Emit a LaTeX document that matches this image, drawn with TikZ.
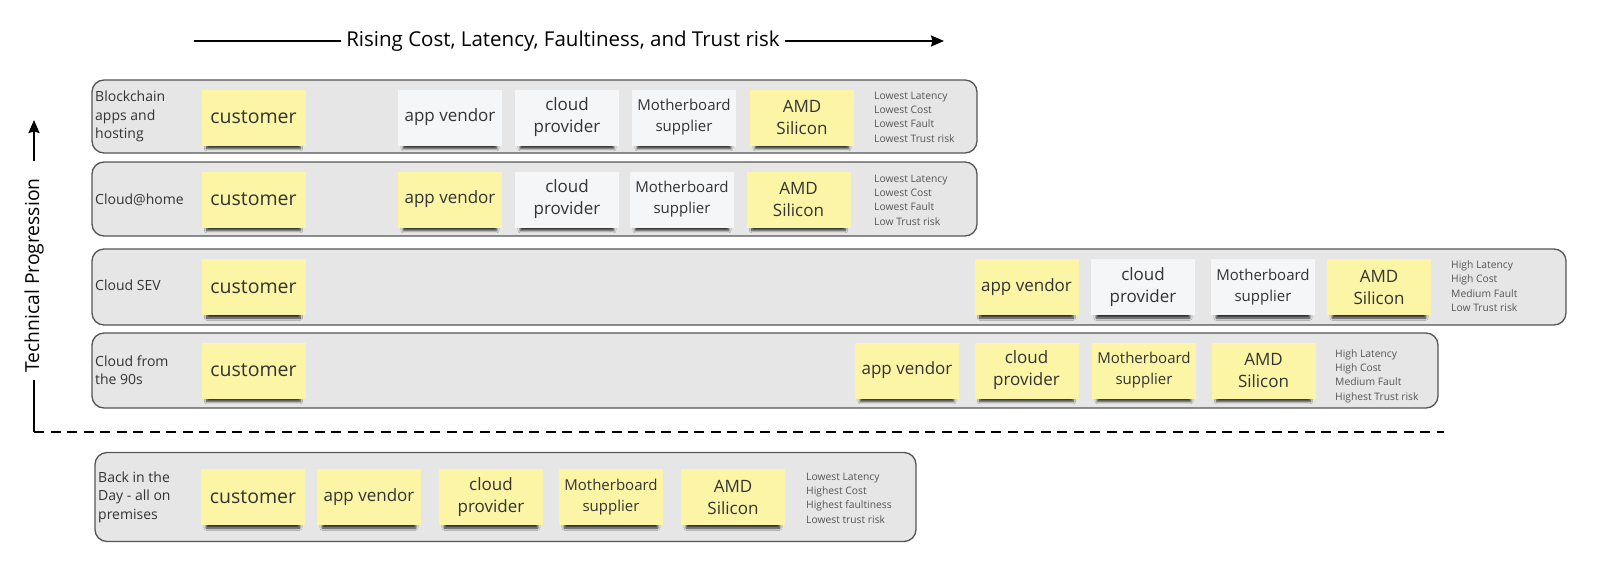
\documentclass[tikz,border=0pt]{standalone}
\usepackage{fontspec}
\setmainfont{Open Sans}
\usetikzlibrary{shapes.geometric, arrows, arrows.meta, positioning, shadows, shadows.blur}
\definecolor{lanefill}{HTML}{E6E6E6}
\definecolor{laneline}{HTML}{555555}
\definecolor{stickyyellow}{HTML}{FDF5A6}
\definecolor{stickywhite}{HTML}{F5F6F8}
\definecolor{inkgray}{HTML}{333333}
\definecolor{factgray}{HTML}{555555}
\tikzstyle{lane} = [rectangle, rounded corners=12pt, draw=laneline, fill=lanefill, line width=1.3pt, inner sep=0pt]
\tikzstyle{sticky} = [rectangle, minimum width=104pt, minimum height=56pt, inner sep=0pt, text centered, align=center, fill=stickyyellow, text=inkgray, font=\fontsize{17}{22}\selectfont, blur shadow={shadow xshift=0pt, shadow yshift=-6.5pt, shadow scale=0.9, shadow blur radius=2.5pt, shadow blur steps=6, shadow opacity=80}]
\tikzstyle{blank} = [sticky, fill=stickywhite]
\tikzstyle{cust} = [font=\fontsize{19.5}{22}\selectfont]
\tikzstyle{board} = [font=\fontsize{15}{21}\selectfont]
\tikzstyle{lanetag} = [anchor=west, align=left, text=inkgray, inner sep=0pt, font=\fontsize{14}{18.4}\selectfont]
\tikzstyle{facts} = [anchor=west, align=left, text=factgray, inner sep=0pt, font=\fontsize{10.3}{14.3}\selectfont]
\tikzstyle{axis} = [text=black, inner sep=5pt, font=\fontsize{20.5}{24}\selectfont]
\tikzstyle{line} = [line width=1.8pt]
\tikzstyle{arrow} = [line width=1.8pt,-{Stealth[length=13pt,width=11pt,inset=1.5pt]}]

\begin{document}
\begin{tikzpicture}[x=1pt, y=-1pt]
    \useasboundingbox (0,0) rectangle (1600,576);

    % axes
    \coordinate (risestart) at (194,41);
    \coordinate (riseend) at (944,41);
    \node (rise) [axis] at (563,41) {Rising Cost, Latency, Faultiness, and Trust risk};
    \draw [line] (risestart) -- (rise.west);
    \draw [arrow] (rise.east) -- (riseend);

    \coordinate (corner) at (34,432);
    \coordinate (progtip) at (34,120);
    \coordinate (dashend) at (1444,432);
    \node (prog) [axis, rotate=90, inner sep=0pt, font=\fontsize{19.3}{22}\selectfont] at (34,275.5) {Technical Progression};
    \draw [line, shorten >=7pt] (corner) -- (prog.west);
    \draw [arrow, shorten <=17pt] (prog.east) -- (progtip);
    \draw [line, dash pattern=on 10pt off 6.5pt] (corner) -- (dashend);

    % lanes
    \node (chain) [lane, minimum width=885pt, minimum height=73pt] at (534.5,116.5) {};
    \node (home) [lane, minimum width=885pt, minimum height=74pt] at (534.5,199) {};
    \node (sev) [lane, minimum width=1474pt, minimum height=76pt] at (829,287) {};
    \node (nineties) [lane, minimum width=1346pt, minimum height=75pt] at (765,370.5) {};
    \node (premises) [lane, minimum width=821pt, minimum height=89pt] at (505.5,497) {};

    \node (chaintag) [lanetag] at (95,116.5) {Blockchain\\apps and\\hosting};
    \node (hometag) [lanetag] at (95,200) {Cloud@home};
    \node (sevtag) [lanetag] at (95,285) {Cloud SEV};
    \node (ninetiestag) [lanetag] at (95,370) {Cloud from\\the 90s};
    \node (premisestag) [lanetag] at (98,497) {Back in the\\Day - all on\\premises};

    % blockchain
    \node (chaincust) [sticky, cust] at (253.5,117.5) {customer};
    \node (chainvendor) [blank] at (450,117.5) {app vendor};
    \node (chaincloud) [blank] at (567,117.5) {cloud\\provider};
    \node (chainboard) [blank, board] at (684,117.5) {Motherboard\\supplier};
    \node (chainamd) [sticky] at (802,117.5) {AMD\\Silicon};
    \node (chainfacts) [facts] at (874,117) {Lowest Latency\\Lowest Cost\\Lowest Fault\\Lowest Trust risk};

    % cloud at home
    \node (homecust) [sticky, cust] at (253.5,199.5) {customer};
    \node (homevendor) [sticky] at (450,199.5) {app vendor};
    \node (homecloud) [blank] at (567,199.5) {cloud\\provider};
    \node (homeboard) [blank, board] at (682,199.5) {Motherboard\\supplier};
    \node (homeamd) [sticky] at (798.5,199.5) {AMD\\Silicon};
    \node (homefacts) [facts] at (874,200) {Lowest Latency\\Lowest Cost\\Lowest Fault\\Low Trust risk};

    % cloud sev
    \node (sevcust) [sticky, cust] at (253.5,287) {customer};
    \node (sevvendor) [sticky] at (1026.5,287) {app vendor};
    \node (sevcloud) [blank] at (1143,287) {cloud\\provider};
    \node (sevboard) [blank, board] at (1263,287) {Motherboard\\supplier};
    \node (sevamd) [sticky] at (1379,287) {AMD\\Silicon};
    \node (sevfacts) [facts] at (1451,286) {High Latency\\High Cost\\Medium Fault\\Low Trust risk};

    % cloud from the 90s
    \node (ninetiescust) [sticky, cust] at (253.5,370.5) {customer};
    \node (ninetiesvendor) [sticky] at (907,370.5) {app vendor};
    \node (ninetiescloud) [sticky] at (1026.5,370.5) {cloud\\provider};
    \node (ninetiesboard) [sticky, board] at (1144,370.5) {Motherboard\\supplier};
    \node (ninetiesamd) [sticky] at (1263.5,370.5) {AMD\\Silicon};
    \node (ninetiesfacts) [facts] at (1335,376) {High Latency\\High Cost\\Medium Fault\\Highest Trust risk};

    % on premises
    \node (premisescust) [sticky, cust] at (253,497) {customer};
    \node (premisesvendor) [sticky] at (369,497) {app vendor};
    \node (premisescloud) [sticky] at (491,497) {cloud\\provider};
    \node (premisesboard) [sticky, board] at (611,497) {Motherboard\\supplier};
    \node (premisesamd) [sticky] at (733,497) {AMD\\Silicon};
    \node (premisesfacts) [facts] at (806,498) {Lowest Latency\\Highest Cost\\Highest faultiness\\Lowest trust risk};
\end{tikzpicture}
\end{document}
